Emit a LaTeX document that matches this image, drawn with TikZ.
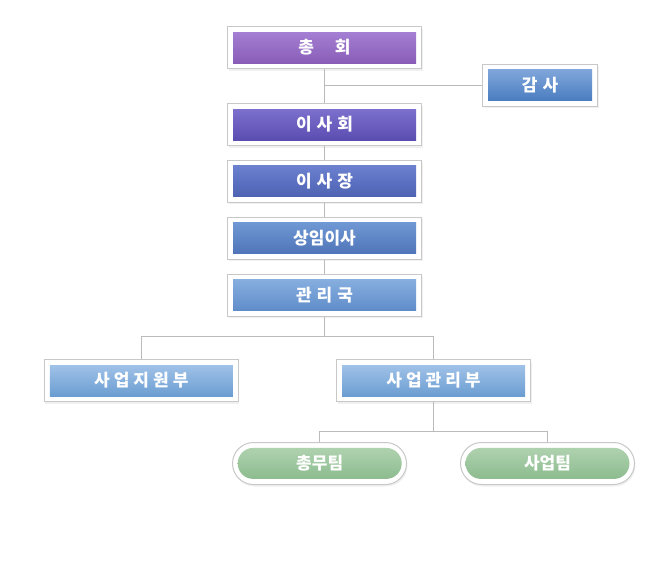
\documentclass[tikz,border=0pt]{standalone}
\usepackage{fontspec}
\newfontfamily\kr{Noto Sans CJK KR}
\usetikzlibrary{shadows}
\definecolor{boxgray}{HTML}{C8C8C8}
\definecolor{linegray}{HTML}{BBBBBB}
\definecolor{pA}{HTML}{A47FD3}\definecolor{pB}{HTML}{895DB7}
\definecolor{vA}{HTML}{7C70CE}\definecolor{vB}{HTML}{5A4DB0}
\definecolor{iA}{HTML}{6C80D0}\definecolor{iB}{HTML}{4E62B3}
\definecolor{sA}{HTML}{6E98D4}\definecolor{sB}{HTML}{5074B8}
\definecolor{gA}{HTML}{86AEDF}\definecolor{gB}{HTML}{5F8CC9}
\definecolor{kA}{HTML}{7FA6DA}\definecolor{kB}{HTML}{4A7CC0}
\definecolor{lA}{HTML}{A0C2E8}\definecolor{lB}{HTML}{6B9DD1}
\definecolor{tA}{HTML}{AED2AE}\definecolor{tB}{HTML}{8DBB8F}
\tikzset{
  outerbox/.style={draw=boxgray, fill=white, line width=1pt, inner sep=0pt,
    minimum width=194pt, minimum height=42pt,
    drop shadow={opacity=0.12, shadow xshift=1pt, shadow yshift=-2pt}},
  innerbox/.style={inner sep=0pt, minimum width=183pt, minimum height=31pt,
    text=white, font=\kr\bfseries\fontsize{17}{20}\selectfont},
  smallouter/.style={outerbox, minimum width=115pt},
  smallinner/.style={innerbox, minimum width=104pt},
  teamouter/.style={outerbox, minimum width=174pt, rounded corners=21pt},
  teaminner/.style={innerbox, minimum width=164pt, rounded corners=15.5pt, top color=tA, bottom color=tB},
  conn/.style={draw=linegray, line width=1pt}
}
\begin{document}
\begin{tikzpicture}[x=1pt,y=-1pt]
\useasboundingbox (0,0) rectangle (650,570);
% boxes
\node[outerbox] (ch) at (324.5,47.5) {};
\node[innerbox, top color=pA, bottom color=pB] (chi) at (324.5,47.5) {총\hspace{21pt}회};
\node[smallouter] (gs) at (540,85) {};
\node[smallinner, top color=kA, bottom color=kB] (gsi) at (540,85.3) {감\hspace{5pt}사};
\node[outerbox] (ish) at (324.5,124.5) {};
\node[innerbox, top color=vA, bottom color=vB] (ishi) at (324.5,124.5) {이\hspace{5pt}사\hspace{5pt}회};
\node[outerbox] (isj) at (324.5,181.3) {};
\node[innerbox, top color=iA, bottom color=iB] (isji) at (324.5,181.3) {이\hspace{5pt}사\hspace{5pt}장};
\node[outerbox] (sm) at (324.5,238.3) {};
\node[innerbox, top color=sA, bottom color=sB] (smi) at (324.5,238.3) {상임이사};
\node[outerbox] (gr) at (324.5,295.3) {};
\node[innerbox, top color=gA, bottom color=gB] (gri) at (324.5,295.3) {관\hspace{5pt}리\hspace{5pt}국};
\node[outerbox] (jw) at (141.3,380.5) {};
\node[innerbox, top color=lA, bottom color=lB] (jwi) at (141.3,380.5) {사\hspace{4pt}업\hspace{4pt}지\hspace{4pt}원\hspace{4pt}부};
\node[outerbox] (gb) at (433.5,380.5) {};
\node[innerbox, top color=lA, bottom color=lB] (gbi) at (433.5,380.5) {사\hspace{4pt}업\hspace{4pt}관\hspace{4pt}리\hspace{4pt}부};
\node[teamouter] (cm) at (319.5,463.5) {};
\node[teaminner] (cmi) at (319.7,463.4) {총무팀};
\node[teamouter] (se) at (547.5,463.5) {};
\node[teaminner] (sei) at (547.5,463.4) {사업팀};
% connectors
\draw[conn] (ch.south) -- (ish.north);
\draw[conn] (gs.west) -- (gs.west -| ch.south);
\draw[conn] (ish.south) -- (isj.north);
\draw[conn] (isj.south) -- (sm.north);
\draw[conn] (sm.south) -- (gr.north);
\draw[conn] (gr.south) -- ++(0,19.3) coordinate (j1);
\draw[conn] (jw.north) |- (j1) -| (gb.north);
\draw[conn] (gb.south) -- ++(0,29.5) coordinate (j2);
\draw[conn] (cm.north) |- (j2) -| (se.north);
\end{tikzpicture}
\end{document}
